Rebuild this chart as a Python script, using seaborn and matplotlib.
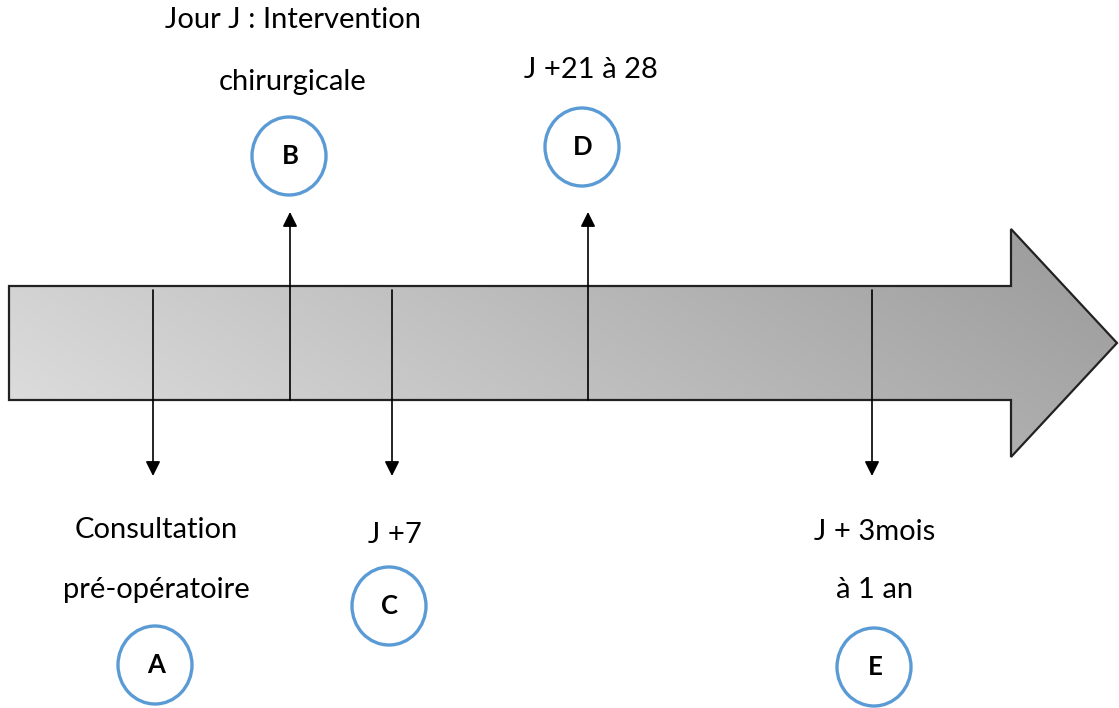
import matplotlib
matplotlib.use("Agg")
import matplotlib.pyplot as plt
import seaborn as sns
import numpy as np
from matplotlib.patches import Polygon, Ellipse

# Étapes du parcours
letters = ["A", "B", "C", "D", "E"]
step_x = [153, 290, 392, 588, 872]
step_dir = ["down", "up", "down", "up", "down"]
step_labels = [
    ["Consultation", "pré-opératoire"],
    ["Jour J : Intervention", "chirurgicale"],
    ["J +7"],
    ["J +21 à 28"],
    ["J + 3mois", "à 1 an"],
]
label_y = [[530, 590], [20, 82], [535], [70], [532, 590]]
circle_xy = [(155, 665), (289, 156), (389, 606), (582, 147), (874, 667)]

sns.set_theme(style="white")
plt.rcParams['font.family'] = ['Lato', 'DejaVu Sans']

fig = plt.figure(figsize=(11.19, 7.08), dpi=100)
ax = fig.add_axes([0, 0, 1, 1])
ax.set_xlim(0, 1119)
ax.set_ylim(708, 0)
ax.axis("off")

# Grande flèche avec dégradé (clair en bas à gauche, foncé en haut à droite)
pts = [(9, 286), (1011, 286), (1011, 229), (1117, 343), (1011, 457), (1011, 400), (9, 400)]
arrow = Polygon(pts, closed=True, facecolor="none", edgecolor="#222222", lw=1.6, zorder=3)
ax.add_patch(arrow)
xx, yy = np.meshgrid(np.linspace(0, 1, 300), np.linspace(0, 1, 120))
t = 0.75 * xx + 0.25 * (1 - yy)
g = 0.88 - 0.28 * t
img = np.dstack([g, g, g])
im = ax.imshow(img, extent=(9, 1119, 457, 229), aspect="auto", zorder=1,
               interpolation="bilinear")
clip = Polygon(pts, closed=True, transform=ax.transData)
im.set_clip_path(clip)

# Flèches verticales
for x, d in zip(step_x, step_dir):
    if d == "down":
        y0, y1 = 290, 476
    else:
        y0, y1 = 400, 212
    ax.annotate("", xy=(x, y1), xytext=(x, y0),
                arrowprops=dict(arrowstyle="-|>", color="black", lw=1.2,
                                mutation_scale=22, shrinkA=0, shrinkB=0),
                zorder=4)

# Textes
for x, lines, ys in zip(step_x, step_labels, label_y):
    for txt, y in zip(lines, ys):
        ax.text(x + 3, y, txt, ha="center", va="center", fontsize=21, color="black")

# Cercles
for l, (cx, cy) in zip(letters, circle_xy):
    ax.add_patch(Ellipse((cx, cy), 74, 78, facecolor="white", edgecolor="#5b9bd5",
                         lw=2.4, zorder=5))
    ax.text(cx + 1, cy, l, ha="center", va="center", fontsize=18.5,
            fontweight="bold", color="black", zorder=6)

fig.savefig("out.png", dpi=100)
